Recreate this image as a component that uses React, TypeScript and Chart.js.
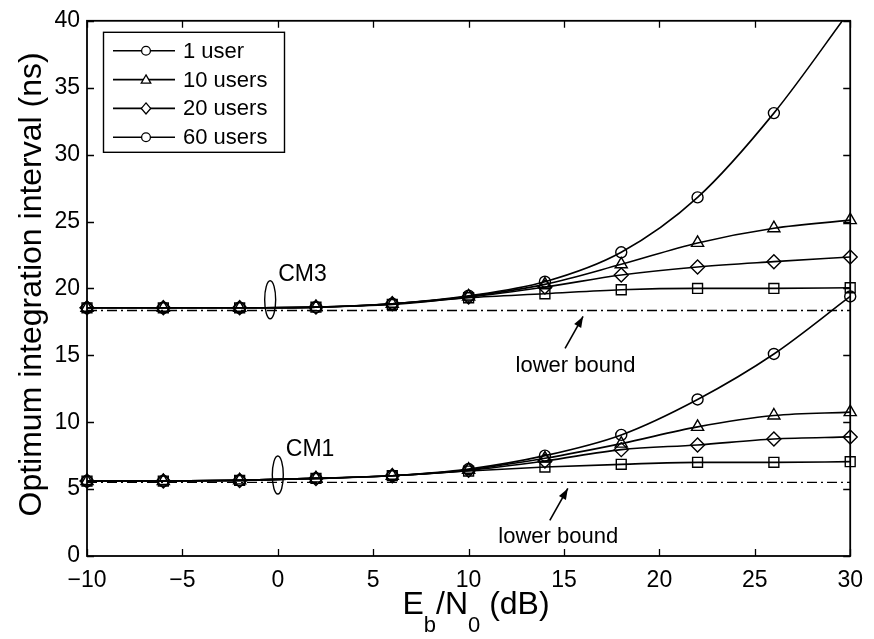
import { useEffect, useRef } from "react";
import { Chart, registerables } from "chart.js";

Chart.register(...registerables);

// ---------- data ----------
const ebN0 = [-10, -6, -2, 2, 6, 10, 14, 18, 22, 26, 30];

const cm3User1 = [18.55, 18.55, 18.55, 18.6, 18.85, 19.45, 20.5, 22.7, 26.8, 33.1, 40.8];
const cm3Users10 = [18.55, 18.55, 18.55, 18.6, 18.85, 19.4, 20.3, 21.8, 23.4, 24.5, 25.1];
const cm3Users20 = [18.55, 18.55, 18.55, 18.6, 18.85, 19.35, 20.1, 21.0, 21.6, 22.0, 22.35];
const cm3Users60 = [18.55, 18.55, 18.55, 18.6, 18.8, 19.3, 19.6, 19.9, 20.0, 20.0, 20.05];

const cm1User1 = [5.6, 5.6, 5.65, 5.8, 6.0, 6.5, 7.5, 9.05, 11.7, 15.1, 19.4];
const cm1Users10 = [5.6, 5.6, 5.65, 5.8, 6.0, 6.45, 7.3, 8.4, 9.65, 10.5, 10.75];
const cm1Users20 = [5.6, 5.6, 5.65, 5.8, 6.0, 6.4, 7.1, 7.95, 8.3, 8.75, 8.9];
const cm1Users60 = [5.6, 5.6, 5.65, 5.8, 6.0, 6.35, 6.65, 6.85, 7.0, 7.0, 7.05];

const boundX = [-10, 30];
const cm3Bound = [18.35, 18.35];
const cm1Bound = [5.5, 5.5];

const xTicks = [-10, -5, 0, 5, 10, 15, 20, 25, 30];
const yTicks = [0, 5, 10, 15, 20, 25, 30, 35, 40];

const legendLabels = ["1 user", "10 users", "20 users", "60 users"];
const legendMarkers = ["circle", "triangle", "rectRot", "circle"];
const seriesMarkers = ["circle", "triangle", "rectRot", "rect"];

const xTitleParts = ["E", "b", "/N", "0", " (dB)"];
const yTitle = "Optimum integration interval (ns)";
const cmLabels = ["CM3", "CM1"];
const cmEllipseAt = [
  [-0.4, 19.15],
  [0.0, 6.05],
];
const boundLabel = "lower bound";
const boundArrowTip = [
  [16.0, 18.35],
  [15.2, 5.5],
];
const boundLabelAt = [
  [15.6, 18.35],
  [14.7, 5.5],
];

const FONT = "'Liberation Sans', Arial, Helvetica, sans-serif";

function toPts(ys: number[], xs: number[] = ebN0) {
  return xs.map((x, i) => ({ x, y: ys[i] }));
}

function markerPath(ctx: CanvasRenderingContext2D, style: string, x: number, y: number, r: number) {
  ctx.beginPath();
  if (style === "circle") {
    ctx.arc(x, y, r * 0.8, 0, Math.PI * 2);
  } else if (style === "triangle") {
    const a = -Math.PI / 2;
    for (let k = 0; k < 3; k++) {
      const ang = a + (k * 2 * Math.PI) / 3;
      const px = x + Math.cos(ang) * r;
      const py = y + Math.sin(ang) * r + r * 0.15;
      if (k === 0) ctx.moveTo(px, py);
      else ctx.lineTo(px, py);
    }
    ctx.closePath();
  } else if (style === "rectRot") {
    ctx.moveTo(x, y - r);
    ctx.lineTo(x + r * 0.85, y);
    ctx.lineTo(x, y + r);
    ctx.lineTo(x - r * 0.85, y);
    ctx.closePath();
  }
}

const decorPlugin = {
  id: "decor",
  afterDraw(chart: any) {
    const ctx: CanvasRenderingContext2D = chart.ctx;
    const { left, right, top, bottom } = chart.chartArea;
    const xs = chart.scales.x;
    const ys = chart.scales.y;
    ctx.save();
    ctx.strokeStyle = "#000";
    ctx.fillStyle = "#000";

    // frame
    ctx.lineWidth = 1.8;
    ctx.strokeRect(left, top, right - left, bottom - top);
    // inward ticks
    ctx.lineWidth = 1.3;
    const tl = 7;
    xTicks.forEach((v) => {
      const px = Math.round(xs.getPixelForValue(v)) + 0.5;
      ctx.beginPath();
      ctx.moveTo(px, bottom);
      ctx.lineTo(px, bottom - tl);
      ctx.moveTo(px, top);
      ctx.lineTo(px, top + tl);
      ctx.stroke();
    });
    yTicks.forEach((v) => {
      const py = Math.round(ys.getPixelForValue(v)) + 0.5;
      ctx.beginPath();
      ctx.moveTo(left, py);
      ctx.lineTo(left + tl, py);
      ctx.moveTo(right, py);
      ctx.lineTo(right - tl, py);
      ctx.stroke();
    });

    // legend
    const lx = left + 16;
    const ly = top + 11;
    const lw = 181;
    const lh = 120;
    ctx.fillStyle = "#fff";
    ctx.fillRect(lx, ly, lw, lh);
    ctx.lineWidth = 1.4;
    ctx.strokeStyle = "#000";
    ctx.strokeRect(lx + 0.5, ly + 0.5, lw, lh);
    ctx.fillStyle = "#000";
    ctx.font = `22px ${FONT}`;
    ctx.textBaseline = "middle";
    ctx.textAlign = "left";
    legendLabels.forEach((lab, i) => {
      const y = ly + 19 + i * 28.8;
      ctx.lineWidth = 1.6;
      ctx.beginPath();
      ctx.moveTo(lx + 10, y);
      ctx.lineTo(lx + 72, y);
      ctx.stroke();
      ctx.lineWidth = 1.3;
      markerPath(ctx, legendMarkers[i], lx + 43, y, 5.5);
      ctx.fillStyle = "#fff";
      ctx.fill();
      ctx.stroke();
      ctx.fillStyle = "#000";
      ctx.fillText(lab, lx + 80, y + 1);
    });

    // CM ellipses + labels
    cmEllipseAt.forEach((p, i) => {
      const cx = xs.getPixelForValue(p[0]);
      const cy = ys.getPixelForValue(p[1]);
      ctx.lineWidth = 1.4;
      ctx.beginPath();
      ctx.ellipse(cx, cy, 5.5, 19, 0, 0, Math.PI * 2);
      ctx.stroke();
      ctx.font = `23px ${FONT}`;
      ctx.textAlign = "left";
      ctx.textBaseline = "middle";
      ctx.fillText(cmLabels[i], cx + 8, cy - 25);
    });

    // lower bound labels + arrows
    boundArrowTip.forEach((p, i) => {
      const tx = xs.getPixelForValue(p[0]);
      const ty = ys.getPixelForValue(p[1]) + 6;
      const bx = tx - 18;
      const by = ty + 32;
      ctx.lineWidth = 1.6;
      ctx.beginPath();
      ctx.moveTo(bx, by);
      ctx.lineTo(tx, ty);
      ctx.stroke();
      const ang = Math.atan2(ty - by, tx - bx);
      const hl = 11;
      const hw = 4;
      ctx.beginPath();
      ctx.moveTo(tx, ty);
      ctx.lineTo(tx - hl * Math.cos(ang) + hw * Math.sin(ang), ty - hl * Math.sin(ang) - hw * Math.cos(ang));
      ctx.lineTo(tx - hl * Math.cos(ang) - hw * Math.sin(ang), ty - hl * Math.sin(ang) + hw * Math.cos(ang));
      ctx.closePath();
      ctx.fill();
      const lp = boundLabelAt[i];
      ctx.font = `22px ${FONT}`;
      ctx.textAlign = "center";
      ctx.textBaseline = "middle";
      ctx.fillText(boundLabel, xs.getPixelForValue(lp[0]), by + 17);
    });

    // y title
    ctx.save();
    ctx.translate(32, (top + bottom) / 2 - 4);
    ctx.rotate(-Math.PI / 2);
    ctx.font = `32px ${FONT}`;
    ctx.textAlign = "center";
    ctx.textBaseline = "middle";
    ctx.fillText(yTitle, 0, 0);
    ctx.restore();

    // x title with subscripts
    const big = `32px ${FONT}`;
    const small = `22px ${FONT}`;
    const widths = xTitleParts.map((t, i) => {
      ctx.font = i % 2 === 1 ? small : big;
      return ctx.measureText(t).width;
    });
    const total = widths.reduce((a, b) => a + b, 0);
    let cx = 476 - total / 2;
    const base = 614;
    ctx.textAlign = "left";
    ctx.textBaseline = "alphabetic";
    xTitleParts.forEach((t, i) => {
      ctx.font = i % 2 === 1 ? small : big;
      ctx.fillText(t, cx, i % 2 === 1 ? base + 18 : base);
      cx += widths[i];
    });

    ctx.restore();
  },
};

function seriesDs(ys: number[], idx: number) {
  return {
    data: toPts(ys),
    borderColor: "#000",
    borderWidth: 1.6,
    pointStyle: seriesMarkers[idx],
    pointRadius: idx === 0 ? 5.5 : 7,
    pointBorderColor: "#000",
    pointBackgroundColor: "rgba(0,0,0,0)",
    pointBorderWidth: 1.4,
    cubicInterpolationMode: "monotone",
    clip: { left: 12, right: 12, top: 0, bottom: 12 },
  };
}

function boundDs(ys: number[]) {
  return {
    data: toPts(ys, boundX),
    borderColor: "#000",
    borderWidth: 1.4,
    borderDash: [10, 4, 2, 4],
    pointRadius: 0,
    clip: 0,
  };
}

export default function App() {
  const ref = useRef<HTMLCanvasElement | null>(null);
  useEffect(() => {
    if (!ref.current) return;
    const chart = new Chart(ref.current, {
      type: "line",
      data: {
        datasets: [
          boundDs(cm3Bound),
          boundDs(cm1Bound),
          seriesDs(cm3User1, 0),
          seriesDs(cm3Users10, 1),
          seriesDs(cm3Users20, 2),
          seriesDs(cm3Users60, 3),
          seriesDs(cm1User1, 0),
          seriesDs(cm1Users10, 1),
          seriesDs(cm1Users20, 2),
          seriesDs(cm1Users60, 3),
        ] as any,
      },
      options: {
        responsive: false,
        maintainAspectRatio: false,
        animation: false,
        devicePixelRatio: 1,
        layout: { padding: { top: 13, right: 15, left: 0, bottom: 0 } },
        plugins: { legend: { display: false }, tooltip: { enabled: false }, title: { display: false } },
        scales: {
          x: {
            type: "linear",
            min: -10,
            max: 30,
            afterFit: (s: any) => {
              s.height = 83;
            },
            afterBuildTicks: (s: any) => {
              s.ticks = xTicks.map((v) => ({ value: v }));
            },
            grid: { display: false, drawTicks: false },
            border: { display: false },
            ticks: {
              color: "#000",
              font: { family: FONT, size: 23 },
              padding: 11,
              maxRotation: 0,
              autoSkip: false,
              callback: (v: any) => (Number(v) < 0 ? "\u2212" + Math.abs(Number(v)) : String(v)),
            },
          },
          y: {
            type: "linear",
            min: 0,
            max: 40,
            afterFit: (s: any) => {
              s.width = 87;
            },
            afterBuildTicks: (s: any) => {
              s.ticks = yTicks.map((v) => ({ value: v }));
            },
            grid: { display: false, drawTicks: false },
            border: { display: false },
            ticks: {
              color: "#000",
              font: { family: FONT, size: 23 },
              padding: 7,
              autoSkip: false,
            },
          },
        },
      },
      plugins: [decorPlugin],
    });
    return () => chart.destroy();
  }, []);
  return (
    <div style={{ position: "absolute", left: 0, top: 0, width: 874, height: 639, background: "#fff" }}>
      <canvas ref={ref} width={874} height={639} style={{ display: "block" }} />
    </div>
  );
}
